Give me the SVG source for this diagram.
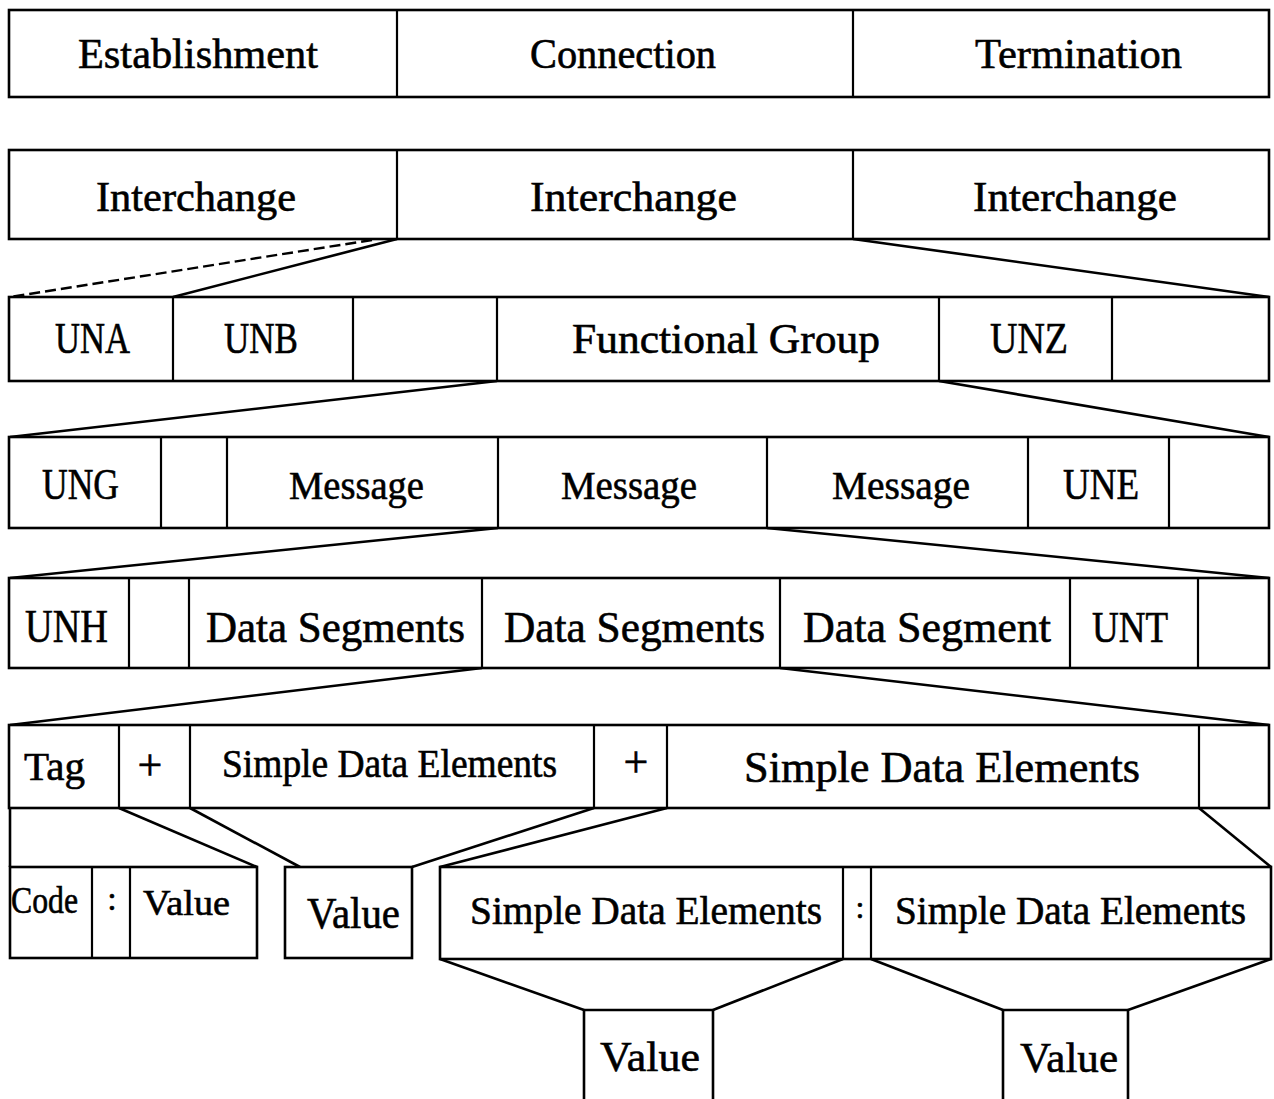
<svg xmlns="http://www.w3.org/2000/svg" width="1274" height="1099" viewBox="0 0 1274 1099">
<style>
.box{fill:#fff;stroke:#000;stroke-width:2.6}
.div{stroke:#000;stroke-width:2.2;fill:none}
.ln{stroke:#000;stroke-width:2.6;fill:none;stroke-linejoin:round}
.dash{stroke:#000;stroke-width:2.4;fill:none;stroke-dasharray:11 5}
text{font-family:"Liberation Serif","DejaVu Serif",serif;fill:#000;stroke:#000;stroke-width:0.6}
</style>
<rect width="1274" height="1099" fill="#fff"/>
<g id="connectors">
<path class="dash" d="M372,240 L10,297"/>
<path class="ln" d="M397,239 L173,297"/>
<path class="ln" d="M853,239 L1269,297"/>
<path class="ln" d="M497,381 L10,437"/>
<path class="ln" d="M939,381 L1269,437"/>
<path class="ln" d="M498,528 L10,578"/>
<path class="ln" d="M767,528 L1269,578"/>
<path class="ln" d="M482,668 L10,725"/>
<path class="ln" d="M780,668 L1269,725"/>
<path class="ln" d="M10,808 L10,867"/>
<path class="ln" d="M119,808 L257,867"/>
<path class="ln" d="M190,808 L300,867"/>
<path class="ln" d="M594,808 L412,867"/>
<path class="ln" d="M667,808 L440,867"/>
<path class="ln" d="M1199,808 L1271,867"/>
<path class="ln" d="M440,959 L584,1010"/>
<path class="ln" d="M843,959 L713,1010"/>
<path class="ln" d="M871,959 L1003,1010"/>
<path class="ln" d="M1271,959 L1128,1010"/>
</g>
<g id="row1">
<rect class="box" x="9" y="10" width="1260" height="87"/>
<path class="div" d="M397,10V97M853,10V97"/>
<text x="78" y="68" font-size="43" textLength="240" lengthAdjust="spacingAndGlyphs">Establishment</text>
<text x="530" y="68" font-size="42" textLength="186" lengthAdjust="spacingAndGlyphs">Connection</text>
<text x="975" y="68" font-size="43" textLength="207" lengthAdjust="spacingAndGlyphs">Termination</text>
</g>
<g id="row2">
<rect class="box" x="9" y="150" width="1260" height="89"/>
<path class="div" d="M397,150V239M853,150V239"/>
<text x="96" y="211" font-size="43" textLength="200" lengthAdjust="spacingAndGlyphs">Interchange</text>
<text x="530" y="211" font-size="43" textLength="207" lengthAdjust="spacingAndGlyphs">Interchange</text>
<text x="973" y="211" font-size="43" textLength="204" lengthAdjust="spacingAndGlyphs">Interchange</text>
</g>
<g id="row3">
<rect class="box" x="9" y="297" width="1260" height="84"/>
<path class="div" d="M173,297V381M353,297V381M497,297V381M939,297V381M1112,297V381"/>
<text x="55" y="353" font-size="45" textLength="75" lengthAdjust="spacingAndGlyphs">UNA</text>
<text x="224" y="353" font-size="45" textLength="74" lengthAdjust="spacingAndGlyphs">UNB</text>
<text x="572" y="353" font-size="43" textLength="308" lengthAdjust="spacingAndGlyphs">Functional Group</text>
<text x="990" y="353" font-size="45" textLength="78" lengthAdjust="spacingAndGlyphs">UNZ</text>
</g>
<g id="row4">
<rect class="box" x="9" y="437" width="1260" height="91"/>
<path class="div" d="M161,437V528M227,437V528M498,437V528M767,437V528M1028,437V528M1169,437V528"/>
<text x="42" y="499" font-size="44" textLength="77" lengthAdjust="spacingAndGlyphs">UNG</text>
<text x="289" y="499" font-size="41" textLength="135" lengthAdjust="spacingAndGlyphs">Message</text>
<text x="561" y="499" font-size="41" textLength="136" lengthAdjust="spacingAndGlyphs">Message</text>
<text x="832" y="499" font-size="41" textLength="138" lengthAdjust="spacingAndGlyphs">Message</text>
<text x="1063" y="499" font-size="44" textLength="76" lengthAdjust="spacingAndGlyphs">UNE</text>
</g>
<g id="row5">
<rect class="box" x="9" y="578" width="1260" height="90"/>
<path class="div" d="M129,578V668M189,578V668M482,578V668M780,578V668M1070,578V668M1198,578V668"/>
<text x="25" y="642" font-size="46" textLength="83" lengthAdjust="spacingAndGlyphs">UNH</text>
<text x="206" y="642" font-size="44" textLength="259" lengthAdjust="spacingAndGlyphs">Data Segments</text>
<text x="504" y="642" font-size="44" textLength="261" lengthAdjust="spacingAndGlyphs">Data Segments</text>
<text x="803" y="642" font-size="44" textLength="248" lengthAdjust="spacingAndGlyphs">Data Segment</text>
<text x="1092" y="642" font-size="44" textLength="76" lengthAdjust="spacingAndGlyphs">UNT</text>
</g>
<g id="row6">
<rect class="box" x="9" y="725" width="1260" height="83"/>
<path class="div" d="M119,725V808M190,725V808M594,725V808M667,725V808M1199,725V808"/>
<text x="24" y="780" font-size="40" textLength="61" lengthAdjust="spacingAndGlyphs">Tag</text>
<text x="150" y="780" font-size="44" text-anchor="middle">+</text>
<text x="222" y="777" font-size="39" textLength="335" lengthAdjust="spacingAndGlyphs">Simple Data Elements</text>
<text x="636" y="777" font-size="44" text-anchor="middle">+</text>
<text x="744" y="782" font-size="44" textLength="396" lengthAdjust="spacingAndGlyphs">Simple Data Elements</text>
</g>
<g id="code-value">
<rect class="box" x="10" y="867" width="247" height="91"/>
<path class="div" d="M92,867V958M130,867V958"/>
<text x="11" y="913" font-size="37" textLength="67" lengthAdjust="spacingAndGlyphs">Code</text>
<text x="112" y="910" font-size="34" text-anchor="middle">:</text>
<text x="143" y="915" font-size="36" textLength="87" lengthAdjust="spacingAndGlyphs">Value</text>
</g>
<g id="value1">
<rect class="box" x="285" y="867" width="127" height="91"/>
<text x="307" y="928" font-size="44" textLength="93" lengthAdjust="spacingAndGlyphs">Value</text>
</g>
<g id="sde-pair">
<rect class="box" x="440" y="867" width="831" height="92"/>
<path class="div" d="M843,867V959M871,867V959"/>
<text x="470" y="924" font-size="40" textLength="352" lengthAdjust="spacingAndGlyphs">Simple Data Elements</text>
<text x="860" y="918" font-size="32" text-anchor="middle">:</text>
<text x="895" y="924" font-size="40" textLength="351" lengthAdjust="spacingAndGlyphs">Simple Data Elements</text>
</g>
<g id="value2">
<path class="ln" d="M584,1104V1010H713V1104"/>
<text x="600" y="1071" font-size="43" textLength="100" lengthAdjust="spacingAndGlyphs">Value</text>
</g>
<g id="value3">
<path class="ln" d="M1003,1104V1010H1128V1104"/>
<text x="1020" y="1072" font-size="43" textLength="98" lengthAdjust="spacingAndGlyphs">Value</text>
</g>
</svg>
